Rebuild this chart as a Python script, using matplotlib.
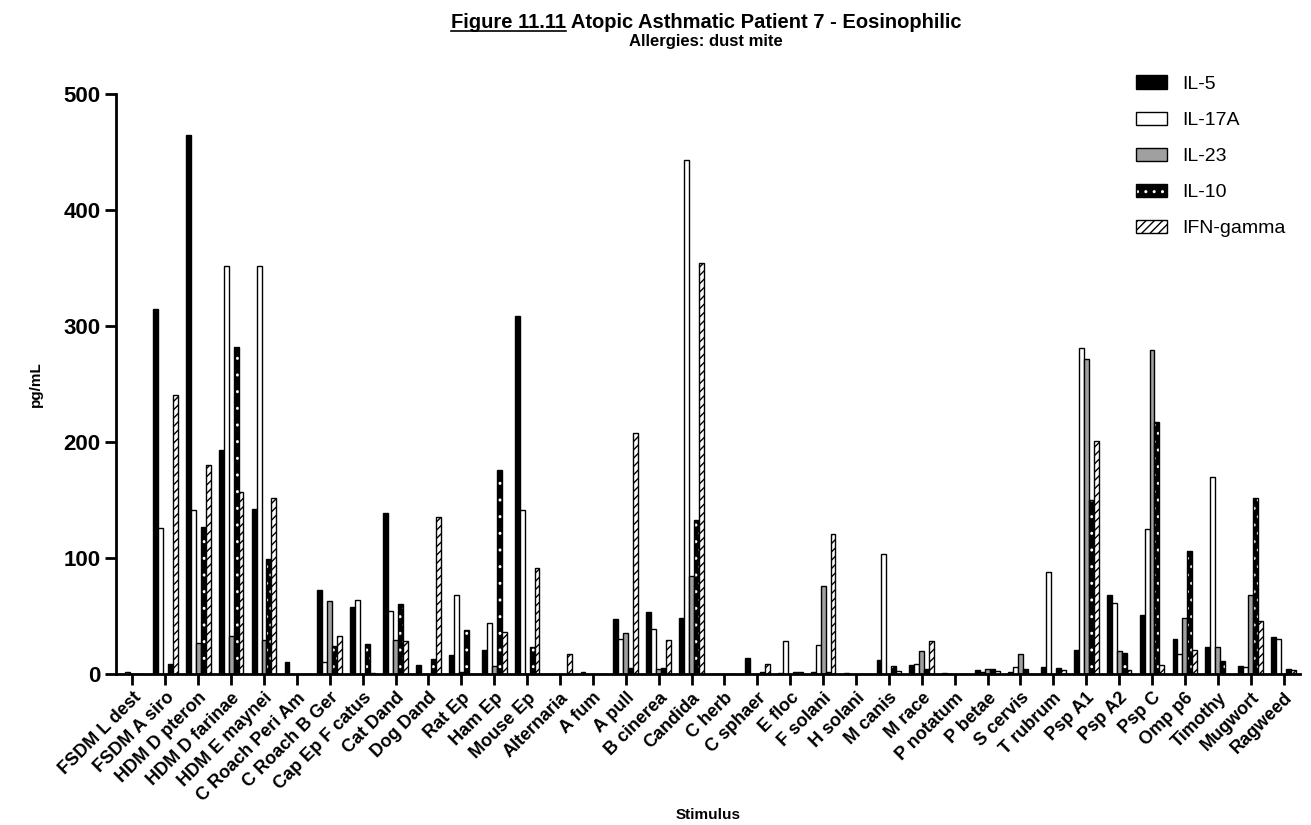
import matplotlib
matplotlib.use("Agg")
import matplotlib.pyplot as plt
from matplotlib.patches import Patch
from matplotlib.lines import Line2D
import numpy as np

plt.rcParams['font.family'] = ['Liberation Sans', 'DejaVu Sans']
plt.rcParams['hatch.linewidth'] = 1.0

stimuli = ["FSDM L dest", "FSDM A siro", "HDM D pteron", "HDM D farinae", "HDM E maynei",
           "C Roach Peri Am", "C Roach B Ger", "Cap Ep F catus", "Cat Dand", "Dog Dand",
           "Rat Ep", "Ham Ep", "Mouse Ep", "Alternaria", "A fum", "A pull", "B cinerea",
           "Candida", "C herb", "C sphaer", "E floc", "F solani", "H solani", "M canis",
           "M race", "P notatum", "P betae", "S cervis", "T rubrum", "Psp A1", "Psp A2",
           "Psp C", "Omp p6", "Timothy", "Mugwort", "Ragweed"]

il5 = [0, 314, 464, 193, 142, 10, 72, 58, 139, 8, 16, 21, 308, 0, 2, 47, 53, 48, 0, 14,
       1, 1.5, 1, 12, 7.5, 0.5, 3.3, 1.5, 6, 21, 68, 51, 30, 23, 7, 32]
il17a = [1.5, 126, 141, 351, 351, 0, 10, 64, 54, 0, 68, 44, 141, 0, 0, 30, 39, 443, 0, 0,
         28, 25, 0, 103, 9, 0, 1.3, 6, 88, 281, 61, 125, 17, 170, 6, 30]
il23 = [0, 0, 27, 33, 29, 0, 63, 0, 29, 0, 1.5, 6.5, 0, 0, 0, 35, 4.5, 84, 0, 0,
        0, 76, 0, 0, 20, 0, 4.6, 17.5, 0, 271, 20, 279, 48, 23, 68, 0]
il10 = [0, 8.5, 127, 282, 99, 0, 24, 26, 60, 13, 38, 176, 23, 0, 0, 5, 5, 133, 0, 1.5,
        2, 2, 0, 7, 4, 0, 4.6, 4.3, 5, 150, 18, 217, 106, 11.5, 152, 4.3]
ifng = [0, 240, 180, 157, 152, 0, 33, 1, 28, 135, 0, 36, 91, 17.5, 0, 208, 29, 354, 0, 9,
        2, 121, 0, 2.6, 28, 0, 2.6, 0, 3.6, 201, 3.3, 7.6, 21, 0, 46, 3.6]

fig = plt.figure(figsize=(13.11, 8.25), dpi=100)
ax = fig.add_axes([116/1311, 151/825, 1184/1311, 580.5/825])

x = np.arange(len(stimuli))
w = 0.15

ax.bar(x - 2*w, il5, w, color='black', edgecolor='black', linewidth=1)
ax.bar(x - w, il17a, w, color='white', edgecolor='black', linewidth=1)
ax.bar(x, il23, w, color='#a0a0a0', edgecolor='black', linewidth=1)
# checkered: black bar with white hatch, then black outline
ax.bar(x + w, il10, w, color='black', edgecolor='white', hatch='..', linewidth=0)
ax.bar(x + w, il10, w, fill=False, edgecolor='black', linewidth=1)
ax.bar(x + 2*w, ifng, w, color='white', edgecolor='black', hatch='////', linewidth=1)

ax.set_xlim(-0.5, len(stimuli) - 0.5)
ax.set_ylim(0, 500)
ax.set_yticks([0, 100, 200, 300, 400, 500])
ax.set_xticks(x)
ax.set_xticklabels(stimuli, rotation=45, ha='right', rotation_mode='anchor',
                   fontsize=13, fontweight='bold')
for lab in ax.get_yticklabels():
    lab.set_fontsize(16)
    lab.set_fontweight('bold')
ax.tick_params(axis='both', direction='out', length=8, width=2, pad=3)
ax.spines['top'].set_visible(False)
ax.spines['right'].set_visible(False)
ax.spines['left'].set_linewidth(2)
ax.spines['bottom'].set_linewidth(2)

fig.text(36/1311, 384/825 * -1 + 1, 'pg/mL', fontsize=11, fontweight='bold',
         rotation=90, ha='center', va='center')
fig.text(708/1311, 1 - 815/825, 'Stimulus', fontsize=11, fontweight='bold',
         ha='center', va='center')

# legend
handles = [Patch(facecolor='black', edgecolor='black'),
           Patch(facecolor='white', edgecolor='black'),
           Patch(facecolor='#a0a0a0', edgecolor='black'),
           (Patch(facecolor='black', edgecolor='white', hatch='..', linewidth=0),
            Patch(fill=False, edgecolor='black')),
           Patch(facecolor='white', edgecolor='black', hatch='////')]
labels = ['IL-5', 'IL-17A', 'IL-23', 'IL-10', 'IFN-gamma']
fig.legend(handles, labels, loc='upper left', bbox_to_anchor=(1118/1311, 1 - 58/825),
           frameon=False, fontsize=14, handlelength=1.6, handleheight=0.7,
           labelspacing=0.95, handletextpad=0.8)

# title with underlined figure number
fs = 14.5
cx = 706 / 1311
ty = 1 - 28/825
renderer = fig.canvas.get_renderer()
t1 = fig.text(0, ty, 'Figure 11.11', fontsize=fs, fontweight='bold', ha='left', va='baseline')
t2 = fig.text(0, ty, ' Atopic Asthmatic Patient 7 - Eosinophilic', fontsize=fs,
              fontweight='bold', ha='left', va='baseline')
b1 = t1.get_window_extent(renderer)
b2 = t2.get_window_extent(renderer)
total = (b1.width + b2.width) / fig.bbox.width
x0 = cx - total / 2
t1.set_x(x0)
t2.set_x(x0 + b1.width / fig.bbox.width)
fig.add_artist(Line2D([x0, x0 + b1.width / fig.bbox.width], [ty - 3/825, ty - 3/825],
                      color='black', lw=1.2, transform=fig.transFigure))
fig.text(cx, 1 - 46/825, 'Allergies: dust mite', fontsize=12, fontweight='bold',
         ha='center', va='baseline')

fig.savefig('out.png', dpi=100)
